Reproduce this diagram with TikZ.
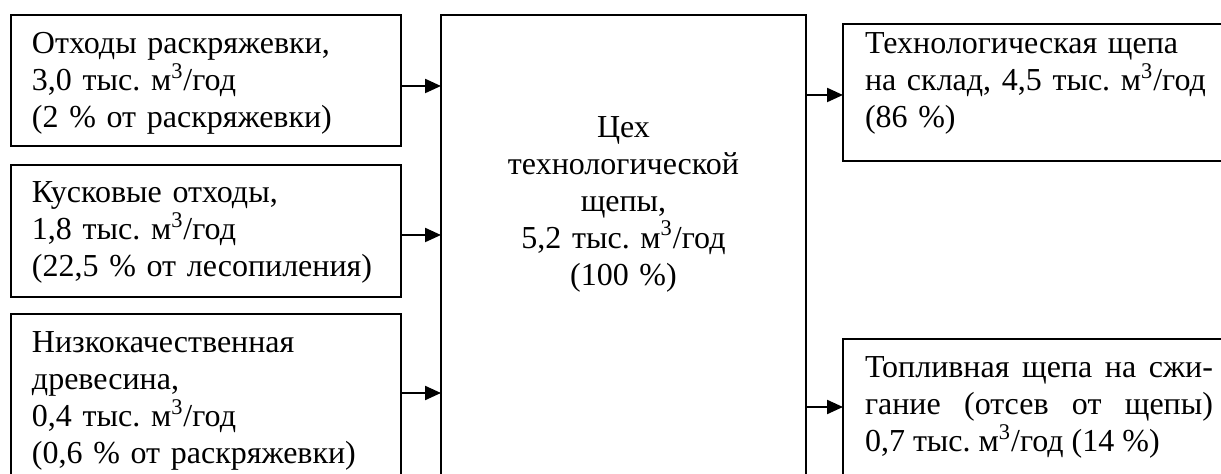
\documentclass[tikz,border=0pt]{standalone}
\usepackage{fontspec}
\setmainfont{Liberation Serif}
\usetikzlibrary{arrows.meta,calc}
\frenchspacing
\begin{document}
\begin{tikzpicture}[x=0.5pt,y=-0.5pt,
  box/.style={draw,line width=1pt,rectangle,anchor=north west,outer sep=0pt,inner ysep=0pt,font=\fontsize{16pt}{18.4pt}\selectfont},
  leftbox/.style={box,inner xsep=10.5pt,text width=174pt,align=left},
  rightbox/.style={box,inner xsep=11pt},
  arr/.style={line width=1.1pt,-{Triangle[length=8pt,width=7pt]}}]
\useasboundingbox (0,0) rectangle (1221,474);
\clip (0,0) rectangle (1221,474);
\node[leftbox,text height=19.5pt,text depth=46pt] (b1) at (11,15)
  {Отходы раскряжевки,\\3,0 тыс. м\textsuperscript{3}/год\\(2 \% от раскряжевки)};
\node[leftbox,text height=19pt,text depth=47pt] (b2) at (11,165)
  {Кусковые отходы,\\1,8 тыс. м\textsuperscript{3}/год\\(22,5 \% от лесопиления)};
\node[leftbox,text height=19.5pt,text depth=73.5pt] (b3) at (11,314)
  {Низкокачественная\\древесина,\\0,4 тыс. м\textsuperscript{3}/год\\(0,6 \% от раскряжевки)};
\node[box,inner xsep=0pt,text width=182.5pt,align=center,text height=61.5pt,text depth=181pt] (main) at (441,15)
  {Цех\\технологической\\щепы,\\5,2 тыс. м\textsuperscript{3}/год\\(100 \%)};
\node[rightbox,text width=176.5pt,align=left,text height=15pt,text depth=53.5pt] (r1) at (843,24)
  {Технологическая щепа\\на склад, 4,5 тыс. м\textsuperscript{3}/год\\(86 \%)};
\node[rightbox,text width=174pt,align=justify,text height=19.5pt,text depth=61pt] (r2) at (843,339)
  {Топливная щепа на сжи-\linebreak гание (отсев от щепы)\linebreak 0,7 тыс. м\textsuperscript{3}/год (14 \%)};
\draw[arr] ([yshift=-2.75pt]b1.east) -- ([yshift=-2.75pt]b1.east -| main.west);
\draw[arr] ([yshift=-2pt]b2.east) -- ([yshift=-2pt]b2.east -| main.west);
\draw[arr] ([yshift=-39.5pt]b3.north east) -- ([yshift=-39.5pt]b3.north east -| main.west);
\draw[arr] ([yshift=-1.25pt]r1.west -| main.east) -- ([yshift=-1.25pt]r1.west);
\draw[arr] ([yshift=-34pt]r2.north west -| main.east) -- ([yshift=-34pt]r2.north west);
\end{tikzpicture}
\end{document}
